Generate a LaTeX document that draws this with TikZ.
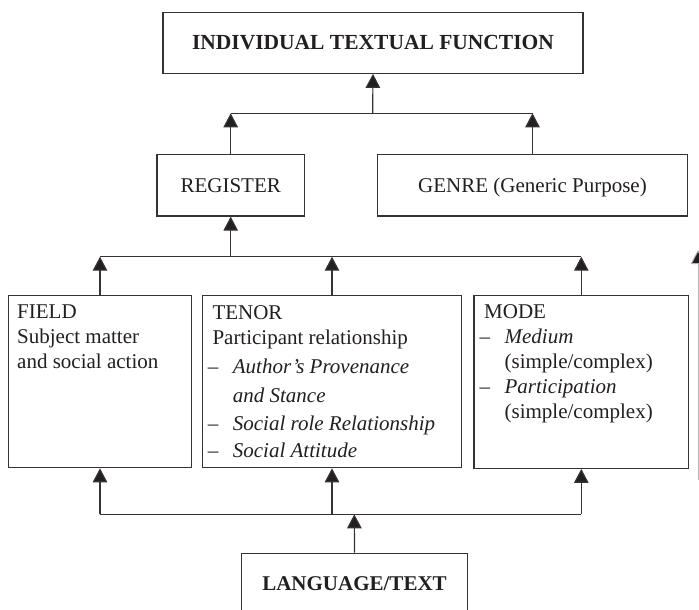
\documentclass[tikz,border=0pt]{standalone}
\usepackage{fontspec}
\setmainfont{Liberation Serif}
\usetikzlibrary{arrows.meta}
\definecolor{ink}{HTML}{231F20}
\definecolor{linec}{HTML}{333333}
\definecolor{ghost}{HTML}{B4B4B4}
\begin{document}
\begin{tikzpicture}[x=1pt,y=-1pt,
  box/.style={draw=linec, line width=1.2pt, rectangle, inner sep=0pt, text=ink,
    text height=13.9pt, text depth=0pt, font=\fontsize{21}{25}\selectfont},
  ln/.style={draw=linec, line width=1.2pt},
  arr/.style={ln, -{Triangle[length=14pt,width=14.5pt,fill=ink]}},
  body/.style={anchor=north west, inner sep=0pt, align=left, text=ink,
    font=\fontsize{21}{25}\selectfont},
]
\path[use as bounding box, fill=white] (0,0) rectangle (699,610);

% boxes
\node[box, minimum width=420pt, minimum height=61pt,
  font=\fontsize{21.5}{25}\selectfont\bfseries] (itf) at (373,42.8) {INDIVIDUAL TEXTUAL FUNCTION};
\node[box, minimum width=147.3pt, minimum height=61.7pt] (reg) at (230.7,185.2) {REGISTER};
\node[box, minimum width=310.4pt, minimum height=61.7pt] (genre) at (532.5,185.2) {GENRE (Generic Purpose)};
\node[box, minimum width=183.4pt, minimum height=172.4pt] (field) at (100,381.5) {};
\node[box, minimum width=259.4pt, minimum height=172.4pt] (tenor) at (332,381.5) {};
\node[box, minimum width=214.7pt, minimum height=173pt] (mode) at (581.3,381.8) {};
\node[box, minimum width=225.6pt, minimum height=61pt, font=\fontsize{21}{25}\selectfont\bfseries] (lang) at (354.5,583.7) {LANGUAGE/TEXT};

% box texts
\node[body] (fieldtxt) at (17,304.2) {FIELD\\Subject matter\\and social action};
\node[body] (tenortxt) at (207.7,305.4) {\hspace*{4.6pt}TENOR\\\hspace*{4.6pt}Participant relationship\\[4pt]\makebox[25pt][l]{–}\textit{Author’s Provenance}\\[4.4pt]\hspace*{25pt}\textit{and Stance}\\[2.3pt]\makebox[25pt][l]{–}\textit{Social role Relationship}\\[2.7pt]\makebox[25pt][l]{–}\textit{Social Attitude}};
\node[body] (modetxt) at (479.4,304.2) {\hspace*{4.6pt}MODE\\\makebox[25pt][l]{–}\textit{Medium}\\\hspace*{25pt}(simple/complex)\\\makebox[25pt][l]{–}\textit{Participation}\\\hspace*{25pt}(simple/complex)};

% junction coordinates
\coordinate (j1) at (372.7,113.3);
\coordinate (j2) at (230.7,256.7);
\coordinate (j3) at (354.3,514.3);

% top level
\draw[ln] (reg.north |- j1) -- (genre.north |- j1);
\draw[arr] (reg.north) -- (reg.north |- j1);
\draw[arr] (genre.north) -- (genre.north |- j1);
\draw[arr] (j1) -- (itf.south);

% middle level
\draw[ln] (field.north |- j2) -- (mode.north |- j2);
\draw[arr] (field.north) -- (field.north |- j2);
\draw[arr] (tenor.north) -- (tenor.north |- j2);
\draw[arr] (mode.north) -- (mode.north |- j2);
\draw[arr] (j2) -- (reg.south);

% bottom level
\draw[ln] (field.south |- j3) -- (mode.south |- j3);
\draw[arr] (field.south |- j3) -- (field.south);
\draw[arr] (tenor.south |- j3) -- (tenor.south);
\draw[arr] (mode.south |- j3) -- (mode.south);
\draw[arr] (lang.north) -- (j3);

% cropped arrow at the right edge
\coordinate (g1) at (698,480);
\coordinate (g2) at (698,250);
\draw[draw=ghost, line width=0.9pt, -{Triangle[length=14pt,width=14.5pt,fill=ink]}] (g1) -- (g2);
\end{tikzpicture}
\end{document}
